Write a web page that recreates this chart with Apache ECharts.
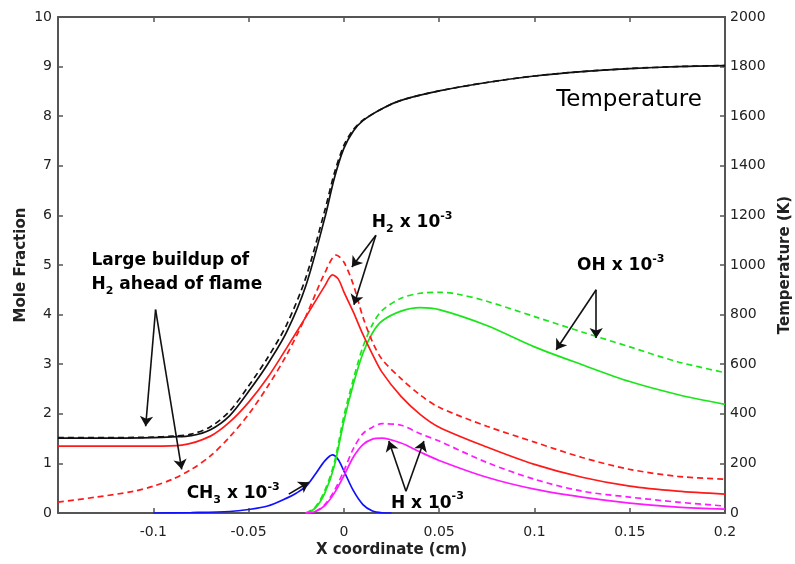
<!DOCTYPE html>
<html>
<head>
<meta charset="utf-8">
<script src="https://cdn.jsdelivr.net/npm/echarts@6/dist/echarts.min.js"></script>
<style>
  html, body { margin: 0; padding: 0; background: #fff; }
  #chart { width: 795px; height: 564px; }
</style>
</head>
<body>
<div id="chart"></div>
<script>
// 温度 (K)，右轴
const tempX = [-0.15, -0.12, -0.1, -0.09, -0.08, -0.07, -0.06, -0.05, -0.04, -0.03, -0.02, -0.01, -0.005, 0, 0.005, 0.01, 0.02, 0.03, 0.05, 0.075, 0.1, 0.125, 0.15, 0.175, 0.2];
const tempSolid = [302, 302, 304, 307, 312, 336, 392, 490, 600, 730, 915, 1190, 1350, 1470, 1540, 1582, 1630, 1664, 1702, 1736, 1762, 1780, 1792, 1800, 1804];
const tempDash = [304, 304, 306, 310, 318, 348, 410, 512, 626, 760, 948, 1220, 1370, 1482, 1546, 1584, 1630, 1664, 1702, 1736, 1762, 1780, 1792, 1800, 1804];

// H2 x 10^-3
const h2X = [-0.15, -0.1, -0.085, -0.07, -0.06, -0.05, -0.04, -0.03, -0.02, -0.01, -0.006, -0.003, 0, 0.005, 0.01, 0.015, 0.02, 0.03, 0.04, 0.05, 0.075, 0.1, 0.125, 0.15, 0.175, 0.2];
const h2Solid = [1.35, 1.35, 1.37, 1.55, 1.83, 2.23, 2.73, 3.33, 3.95, 4.58, 4.8, 4.72, 4.46, 4.05, 3.6, 3.2, 2.84, 2.35, 1.99, 1.73, 1.33, 0.98, 0.72, 0.54, 0.44, 0.38];
const h2DashX = [-0.15, -0.13, -0.11, -0.1, -0.09, -0.08, -0.07, -0.06, -0.05, -0.04, -0.03, -0.02, -0.01, -0.004, 0, 0.005, 0.01, 0.015, 0.02, 0.03, 0.04, 0.05, 0.075, 0.1, 0.125, 0.15, 0.175, 0.2];
const h2Dash = [0.22, 0.32, 0.44, 0.54, 0.68, 0.88, 1.15, 1.53, 1.99, 2.55, 3.19, 3.96, 4.84, 5.2, 5.06, 4.6, 3.95, 3.45, 3.1, 2.71, 2.38, 2.13, 1.75, 1.43, 1.12, 0.88, 0.74, 0.68];

// OH x 10^-3
const ohX = [-0.02, -0.015, -0.01, -0.005, 0, 0.005, 0.01, 0.015, 0.02, 0.03, 0.04, 0.05, 0.075, 0.1, 0.125, 0.15, 0.175, 0.2];
const ohSolid = [0, 0.1, 0.4, 0.95, 1.85, 2.6, 3.22, 3.63, 3.87, 4.07, 4.14, 4.1, 3.78, 3.35, 2.99, 2.65, 2.39, 2.19];
const ohDashX = [-0.02, -0.015, -0.01, -0.005, 0, 0.005, 0.01, 0.015, 0.02, 0.03, 0.04, 0.05, 0.06, 0.075, 0.1, 0.125, 0.15, 0.175, 0.2];
const ohDash = [0, 0.12, 0.45, 1.02, 1.95, 2.7, 3.35, 3.8, 4.08, 4.33, 4.43, 4.45, 4.41, 4.27, 3.96, 3.65, 3.35, 3.05, 2.83];

// H x 10^-3
const hX = [-0.02, -0.015, -0.01, -0.005, 0, 0.005, 0.01, 0.015, 0.02, 0.03, 0.04, 0.05, 0.075, 0.1, 0.125, 0.15, 0.175, 0.2];
const hSolid = [0, 0.03, 0.15, 0.4, 0.75, 1.13, 1.38, 1.49, 1.51, 1.41, 1.23, 1.06, 0.72, 0.48, 0.32, 0.2, 0.12, 0.08];
const hDash = [0, 0.03, 0.17, 0.45, 0.85, 1.3, 1.6, 1.73, 1.8, 1.77, 1.6, 1.45, 1.02, 0.68, 0.44, 0.32, 0.22, 0.14];

// CH3 x 10^-3
const ch3X = [-0.1, -0.08, -0.06, -0.05, -0.04, -0.03, -0.025, -0.02, -0.015, -0.01, -0.006, -0.003, 0, 0.005, 0.01, 0.015, 0.02, 0.025];
const ch3 = [0, 0.01, 0.03, 0.07, 0.14, 0.3, 0.4, 0.53, 0.78, 1.05, 1.17, 1.08, 0.85, 0.45, 0.17, 0.04, 0.005, 0];

// 刻度
const xTicks = [-0.15, 0.2, 0.05];
const yLeftTicks = [0, 10, 1];
const yRightTicks = [0, 2000, 200];

const FONT = "DejaVu Sans";
const AXIS_COLOR = "#555";
const TEXT_COLOR = "#222";

const pairs = (xs, ys) => xs.map((x, i) => [x, ys[i]]);

const lineSeries = (name, xs, ys, color, dashed, yAxisIndex) => ({
  name: name,
  type: "line",
  yAxisIndex: yAxisIndex || 0,
  data: pairs(xs, ys),
  showSymbol: false,
  symbol: "none",
  smooth: 0.3,
  silent: true,
  lineStyle: {
    color: color,
    width: 1.7,
    type: dashed ? [6, 4] : "solid",
  },
});

// 注释箭头 (数据坐标)
const arrows = [
  [[0.0168, 5.6], [0.0042, 4.96]],
  [[0.0168, 5.6], [0.0053, 4.2]],
  [[0.1324, 4.5], [0.1114, 3.29]],
  [[0.1324, 4.5], [0.1324, 3.53]],
  [[0.0326, 0.44], [0.0236, 1.45]],
  [[0.0326, 0.44], [0.042, 1.45]],
  [[-0.0289, 0.38], [-0.0184, 0.62]],
  [[-0.0988, 4.1], [-0.104, 1.75]],
  [[-0.0988, 4.1], [-0.0851, 0.88]],
];

// 注释文字 (左边中点, 数据坐标)
const notes = [
  { pos: [0.1114, 8.33], text: "{t|Temperature}" },
  { pos: [0.0147, 5.86], text: "{b|H}{sub|2}{b| x 10}{sup|-3}" },
  { pos: [0.1224, 4.98], text: "{b|OH x 10}{sup|-3}" },
  { pos: [-0.1324, 5.08], text: "{b|Large buildup of}" },
  { pos: [-0.1324, 4.6], text: "{b|H}{sub|2}{b| ahead of flame}" },
  { pos: [-0.0825, 0.4], text: "{b|CH}{sub|3}{b| x 10}{sup|-3}" },
  { pos: [0.0247, 0.2], text: "{b|H x 10}{sup|-3}" },
];

const richStyles = {
  t: { fontFamily: FONT, fontSize: 23, color: TEXT_COLOR, lineHeight: 26 },
  b: { fontFamily: FONT, fontSize: 17, fontWeight: "bold", color: TEXT_COLOR, lineHeight: 24 },
  sub: { fontFamily: FONT, fontSize: 11, fontWeight: "bold", color: TEXT_COLOR, lineHeight: 13, verticalAlign: "bottom" },
  sup: { fontFamily: FONT, fontSize: 11, fontWeight: "bold", color: TEXT_COLOR, lineHeight: 13, verticalAlign: "top" },
};

const fmtX = (v) => (Math.abs(v - xTicks[0]) < 1e-9 ? "" : String(+v.toFixed(2)));

const axisCommon = {
  axisLine: { show: true, onZero: false, lineStyle: { color: AXIS_COLOR, width: 2 } },
  axisTick: { show: true, inside: true, length: 5, lineStyle: { color: AXIS_COLOR, width: 1.5 } },
  splitLine: { show: false },
  nameMoveOverlap: false,
  nameTextStyle: { fontFamily: FONT, fontSize: 15, fontWeight: "bold", color: TEXT_COLOR },
};

const initChart = () => {
  const chart = echarts.init(document.getElementById("chart"), null, { renderer: "canvas" });

  const h2SolidSeries = lineSeries("H2", h2X, h2Solid, "#ff1a1a", false);
  h2SolidSeries.markLine = {
    silent: true,
    symbol: ["none", "arrow"],
    symbolSize: 10,
    label: { show: false },
    emphasis: { disabled: true },
    lineStyle: { color: "#111", width: 1.6, type: "solid" },
    data: arrows.map((a) => [{ coord: a[0] }, { coord: a[1] }]),
  };

  chart.setOption({
    animation: false,
    backgroundColor: "#fff",
    grid: { left: 58, right: 70, top: 17, bottom: 51, outerBoundsMode: "none", containLabel: false },
    xAxis: [
      Object.assign({}, axisCommon, {
        type: "value",
        position: "bottom",
        min: xTicks[0],
        max: xTicks[1],
        interval: xTicks[2],
        name: "X coordinate (cm)",
        nameLocation: "middle",
        nameGap: 30,
        axisLabel: { formatter: fmtX, fontFamily: FONT, fontSize: 14, color: TEXT_COLOR, margin: 12 },
      }),
      Object.assign({}, axisCommon, {
        type: "value",
        position: "top",
        min: xTicks[0],
        max: xTicks[1],
        interval: xTicks[2],
        axisLabel: { show: false },
      }),
    ],
    yAxis: [
      Object.assign({}, axisCommon, {
        type: "value",
        position: "left",
        min: yLeftTicks[0],
        max: yLeftTicks[1],
        interval: yLeftTicks[2],
        name: "Mole Fraction",
        nameLocation: "middle",
        nameRotate: 90,
        nameGap: 29,
        axisLabel: { fontFamily: FONT, fontSize: 14, color: TEXT_COLOR, margin: 6 },
      }),
      Object.assign({}, axisCommon, {
        type: "value",
        position: "right",
        min: yRightTicks[0],
        max: yRightTicks[1],
        interval: yRightTicks[2],
        name: "Temperature (K)",
        nameLocation: "middle",
        nameRotate: 90,
        nameGap: 53,
        axisLabel: { formatter: (v) => String(v), fontFamily: FONT, fontSize: 14, color: TEXT_COLOR, margin: 5 },
      }),
    ],
    series: [
      lineSeries("CH3", ch3X, ch3, "#1010ff", false),
      lineSeries("OH", ohX, ohSolid, "#19e619", false),
      lineSeries("OH dashed", ohDashX, ohDash, "#19e619", true),
      lineSeries("H", hX, hSolid, "#ff19ff", false),
      lineSeries("H dashed", hX, hDash, "#ff19ff", true),
      h2SolidSeries,
      lineSeries("H2 dashed", h2DashX, h2Dash, "#ff1a1a", true),
      lineSeries("T", tempX, tempSolid, "#111", false, 1),
      lineSeries("T dashed", tempX, tempDash, "#111", true, 1),
    ],
  });

  // 文字注释
  const graphics = notes.map((n) => {
    const p = chart.convertToPixel({ xAxisIndex: 0, yAxisIndex: 0 }, n.pos);
    return {
      type: "text",
      x: p[0],
      y: p[1],
      silent: true,
      style: {
        text: n.text,
        rich: richStyles,
        align: "left",
        verticalAlign: "middle",
      },
    };
  });
  chart.setOption({ graphic: graphics });

  window.onresize = function () {
    chart.resize();
  };
};

initChart();
</script>
</body>
</html>
